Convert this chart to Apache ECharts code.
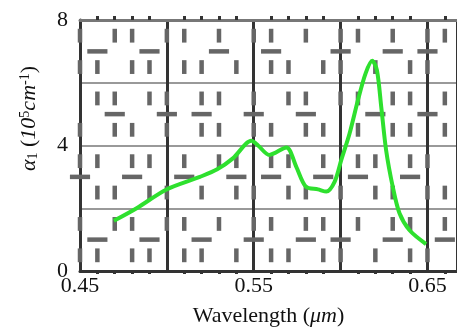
<!DOCTYPE html>
<html>
<head>
<meta charset="utf-8">
<script src="https://cdn.jsdelivr.net/npm/echarts@6/dist/echarts.min.js"></script>
<style>
  html, body { margin: 0; padding: 0; background: #fff; }
  #chart { width: 457px; height: 333px; }
</style>
</head>
<body>
<div id="chart"></div>
<script>
// wavelength (um) and absorption alpha_1 (1e5 cm^-1)
const wavelength = [0.4695, 0.4826, 0.4998, 0.519, 0.529, 0.538, 0.5487, 0.5525, 0.559,
  0.5688, 0.5745, 0.580, 0.587, 0.5918, 0.5966, 0.6004, 0.6052, 0.610, 0.6144, 0.6182,
  0.6209, 0.6234, 0.6262, 0.630, 0.6339, 0.6397, 0.6492];
const alpha1 = [1.6, 2.0, 2.6, 3.0, 3.24, 3.59, 4.15, 4.0, 3.7,
  3.94, 3.32, 2.69, 2.6, 2.53, 2.85, 3.54, 4.39, 5.45, 6.3, 6.7,
  6.4, 5.23, 3.85, 2.69, 1.84, 1.3, 0.86];
const xLabels = ['0.45', '0.55', '0.65'];
const yLabels = ['0', '4', '8'];

// decorative dash texture of the background (rows from top, one char per 0.01 um)
const vDash = [
  '1011011010110101101011',
  '1101101101011011010110',
  '0110110110101101101101',
  '1011010110110110101101',
  '1101101011011010110110',
  '0110110101101101011011',
  '1011011010110110101101',
  '1101101101011011010110'
];
const hDash = {
  7: '0100100010010001001010',
  5: '0010010100100100010010',
  3: '1001001001010010100100',
  1: '0100100100100101001001'
};

const chart = echarts.init(document.getElementById('chart'));
const serif = 'Liberation Serif';

function texture(params, api) {
  const kids = [];
  const st = {stroke: '#666', lineWidth: 4.5, lineCap: 'butt'};
  for (let r = 0; r < vDash.length; r++) {
    const k = 7 - r;
    for (let i = 0; i < vDash[r].length; i++) {
      if (vDash[r][i] !== '1') continue;
      const x = 0.45 + i * 0.01;
      const a = api.coord([x, k + 0.28]);
      const b = api.coord([x, k + 0.72]);
      kids.push({type: 'line', shape: {x1: a[0], y1: a[1], x2: b[0], y2: b[1]}, style: st});
    }
  }
  Object.keys(hDash).forEach(function (k) {
    const row = hDash[k];
    for (let i = 0; i < row.length; i++) {
      if (row[i] !== '1') continue;
      const x = 0.45 + i * 0.01;
      const a = api.coord([x - 0.0058, +k]);
      const b = api.coord([x + 0.0058, +k]);
      kids.push({type: 'line', shape: {x1: a[0], y1: a[1], x2: b[0], y2: b[1]}, style: st});
    }
  });
  return {type: 'group', children: kids};
}

const option = {
  animation: false,
  backgroundColor: '#fff',
  grid: {left: 80, right: 0, top: 20, bottom: 62},
  xAxis: [
    {
      type: 'value',
      min: 0.45,
      max: 0.667,
      interval: 0.05,
      position: 'bottom',
      name: 'Wavelength ({i|μm})',
      nameLocation: 'middle',
      nameGap: 34,
      nameTextStyle: {
        fontFamily: serif, fontSize: 22, color: '#111',
        rich: {i: {fontFamily: serif, fontSize: 22, fontStyle: 'italic', color: '#111'}}
      },
      axisLine: {lineStyle: {color: '#333', width: 3}},
      axisTick: {show: false},
      minorTick: {show: true, splitNumber: 5, length: 3, lineStyle: {color: '#333', width: 3}},
      axisLabel: {
        fontFamily: serif, fontSize: 22, color: '#111', margin: 4,
        showMaxLabel: false,
        formatter: function (v) {
          const s = v.toFixed(2);
          return xLabels.indexOf(s) >= 0 ? s : '';
        }
      },
      splitLine: {show: true, lineStyle: {color: '#333', width: 3}}
    },
    {
      type: 'value',
      min: 0.45,
      max: 0.667,
      interval: 0.05,
      position: 'top',
      axisLine: {lineStyle: {color: '#777', width: 3}},
      axisTick: {show: false},
      minorTick: {show: true, splitNumber: 5, length: 4, lineStyle: {color: '#333', width: 3}},
      axisLabel: {show: false},
      splitLine: {show: false}
    }
  ],
  yAxis: {
    type: 'value',
    min: 0,
    max: 8,
    interval: 2,
    name: '{a|α}{s|1} ({n|10}{p|5}{n|cm}{p|-1})',
    nameLocation: 'middle',
    nameGap: 40,
    nameTextStyle: {
      fontFamily: serif, fontSize: 22, color: '#111',
      padding: [0, 0, 0, 54],
      rich: {
        a: {fontFamily: serif, fontSize: 22, fontStyle: 'italic', color: '#111'},
        s: {fontFamily: serif, fontSize: 14, verticalAlign: 'bottom', color: '#111'},
        n: {fontFamily: serif, fontSize: 22, fontStyle: 'italic', color: '#111'},
        p: {fontFamily: serif, fontSize: 14, verticalAlign: 'top', color: '#111'}
      }
    },
    axisLine: {show: true, lineStyle: {color: '#333', width: 3}},
    axisTick: {show: false},
    axisLabel: {
      fontFamily: serif, fontSize: 22, color: '#111', margin: 12,
      formatter: function (v) {
        const s = String(v);
        return yLabels.indexOf(s) >= 0 ? s : '';
      }
    },
    splitLine: {show: true, lineStyle: {color: '#777', width: 1.5}}
  },
  series: [
    {
      type: 'custom',
      name: 'texture',
      silent: true,
      z: 1,
      renderItem: texture,
      data: [[0.55, 4]]
    },
    {
      type: 'line',
      name: 'alpha1',
      z: 5,
      smooth: 0.3,
      symbol: 'none',
      lineStyle: {color: '#2ee02e', width: 4},
      data: wavelength.map(function (w, i) { return [w, alpha1[i]]; })
    }
  ]
};

chart.setOption(option);
</script>
</body>
</html>
